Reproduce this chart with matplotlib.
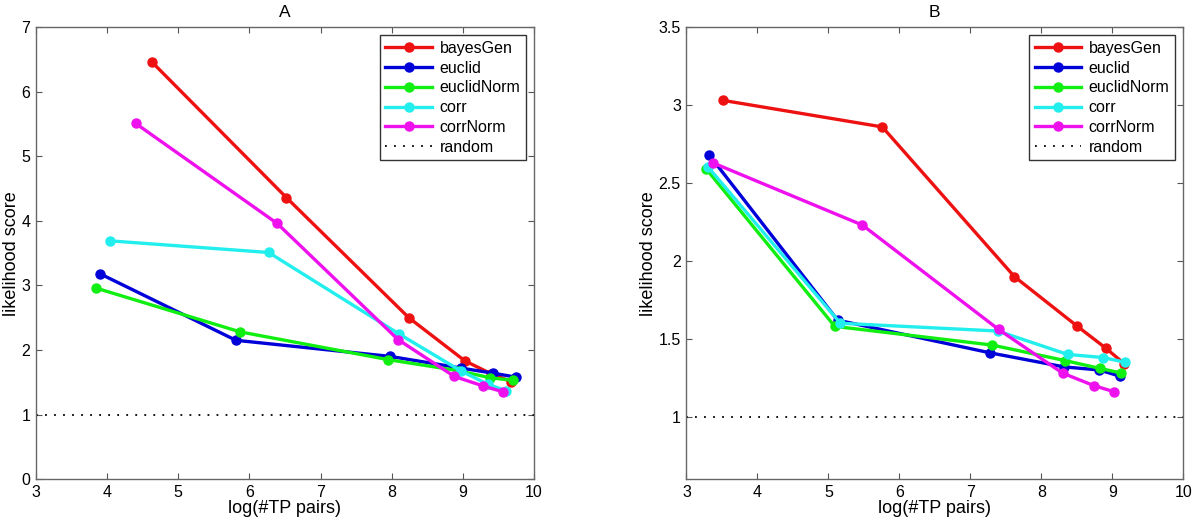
import numpy as np
import matplotlib
matplotlib.use("Agg")
import matplotlib.pyplot as plt

plt.rcParams['font.family'] = ['Liberation Sans', 'DejaVu Sans']

series_names = ["bayesGen", "euclid", "euclidNorm", "corr", "corrNorm"]
series_colors = ["#ee1111", "#0000d8", "#11ee11", "#22eeee", "#ee11ee"]

# panel A: log(#TP pairs) and likelihood score
a_x = {
    "bayesGen":   [4.63, 6.52, 8.24, 9.03, 9.40, 9.68],
    "euclid":     [3.90, 5.81, 7.98, 8.97, 9.43, 9.74],
    "euclidNorm": [3.84, 5.87, 7.95, 8.93, 9.38, 9.70],
    "corr":       [4.04, 6.27, 8.10, 8.98, 9.35, 9.60],
    "corrNorm":   [4.40, 6.39, 8.09, 8.88, 9.29, 9.57],
}
a_y = {
    "bayesGen":   [6.46, 4.36, 2.50, 1.83, 1.63, 1.51],
    "euclid":     [3.18, 2.15, 1.90, 1.72, 1.64, 1.58],
    "euclidNorm": [2.96, 2.28, 1.85, 1.68, 1.57, 1.53],
    "corr":       [3.69, 3.51, 2.25, 1.67, 1.47, 1.37],
    "corrNorm":   [5.51, 3.96, 2.16, 1.59, 1.44, 1.35],
}

# panel B
b_x = {
    "bayesGen":   [3.52, 5.76, 7.62, 8.51, 8.91, 9.17],
    "euclid":     [3.32, 5.13, 7.28, 8.32, 8.82, 9.11],
    "euclidNorm": [3.28, 5.09, 7.31, 8.34, 8.83, 9.13],
    "corr":       [3.31, 5.17, 7.39, 8.37, 8.87, 9.18],
    "corrNorm":   [3.37, 5.48, 7.40, 8.30, 8.74, 9.03],
}
b_y = {
    "bayesGen":   [3.03, 2.86, 1.90, 1.58, 1.44, 1.34],
    "euclid":     [2.68, 1.62, 1.41, 1.32, 1.30, 1.26],
    "euclidNorm": [2.59, 1.58, 1.46, 1.36, 1.31, 1.28],
    "corr":       [2.60, 1.60, 1.55, 1.40, 1.38, 1.35],
    "corrNorm":   [2.63, 2.23, 1.56, 1.28, 1.20, 1.16],
}

random_level = 1.0


def draw_panel(ax, xs, ys, title, ylim, yticks):
    for name, color in zip(series_names, series_colors):
        ax.plot(xs[name], ys[name], "-o", color=color, lw=2.4,
                markersize=6.5, label=name)
    ax.plot([3, 10], [random_level, random_level], color="black",
            lw=1.3, linestyle=(0, (1, 4)), label="random")
    ax.set_xlim(3, 10)
    ax.set_ylim(*ylim)
    ax.set_xticks(range(3, 11))
    ax.set_yticks(yticks)
    ax.set_yticklabels([("%g" % t) for t in yticks])
    ax.tick_params(direction="in", top=True, right=True, labelsize=11.5,
                   length=4, color="#555555", pad=4)
    for s in ax.spines.values():
        s.set_color("#666666")
        s.set_linewidth(1.0)
    ax.set_title(title, fontsize=12.5, pad=7)
    ax.set_xlabel("log(#TP pairs)", fontsize=13, labelpad=0)
    ax.set_ylabel("likelihood score", fontsize=13, labelpad=1)
    leg = ax.legend(loc="upper right", fontsize=11.5, numpoints=1,
                    handlelength=2.9, handletextpad=0.5, fancybox=False,
                    framealpha=1, borderaxespad=0.5, labelspacing=0.3,
                    borderpad=0.35)
    leg.get_frame().set_edgecolor("#333333")
    leg.get_frame().set_linewidth(1.0)


fig = plt.figure(figsize=(12, 5.23), dpi=100)
ax1 = fig.add_axes([0.030, 0.084, 0.415, 0.864])
ax2 = fig.add_axes([0.572, 0.084, 0.414, 0.864])

draw_panel(ax1, a_x, a_y, "A", (0, 7), list(range(0, 8)))
draw_panel(ax2, b_x, b_y, "B", (0.6, 3.5), [1, 1.5, 2, 2.5, 3, 3.5])

fig.savefig("out.png", dpi=100)
